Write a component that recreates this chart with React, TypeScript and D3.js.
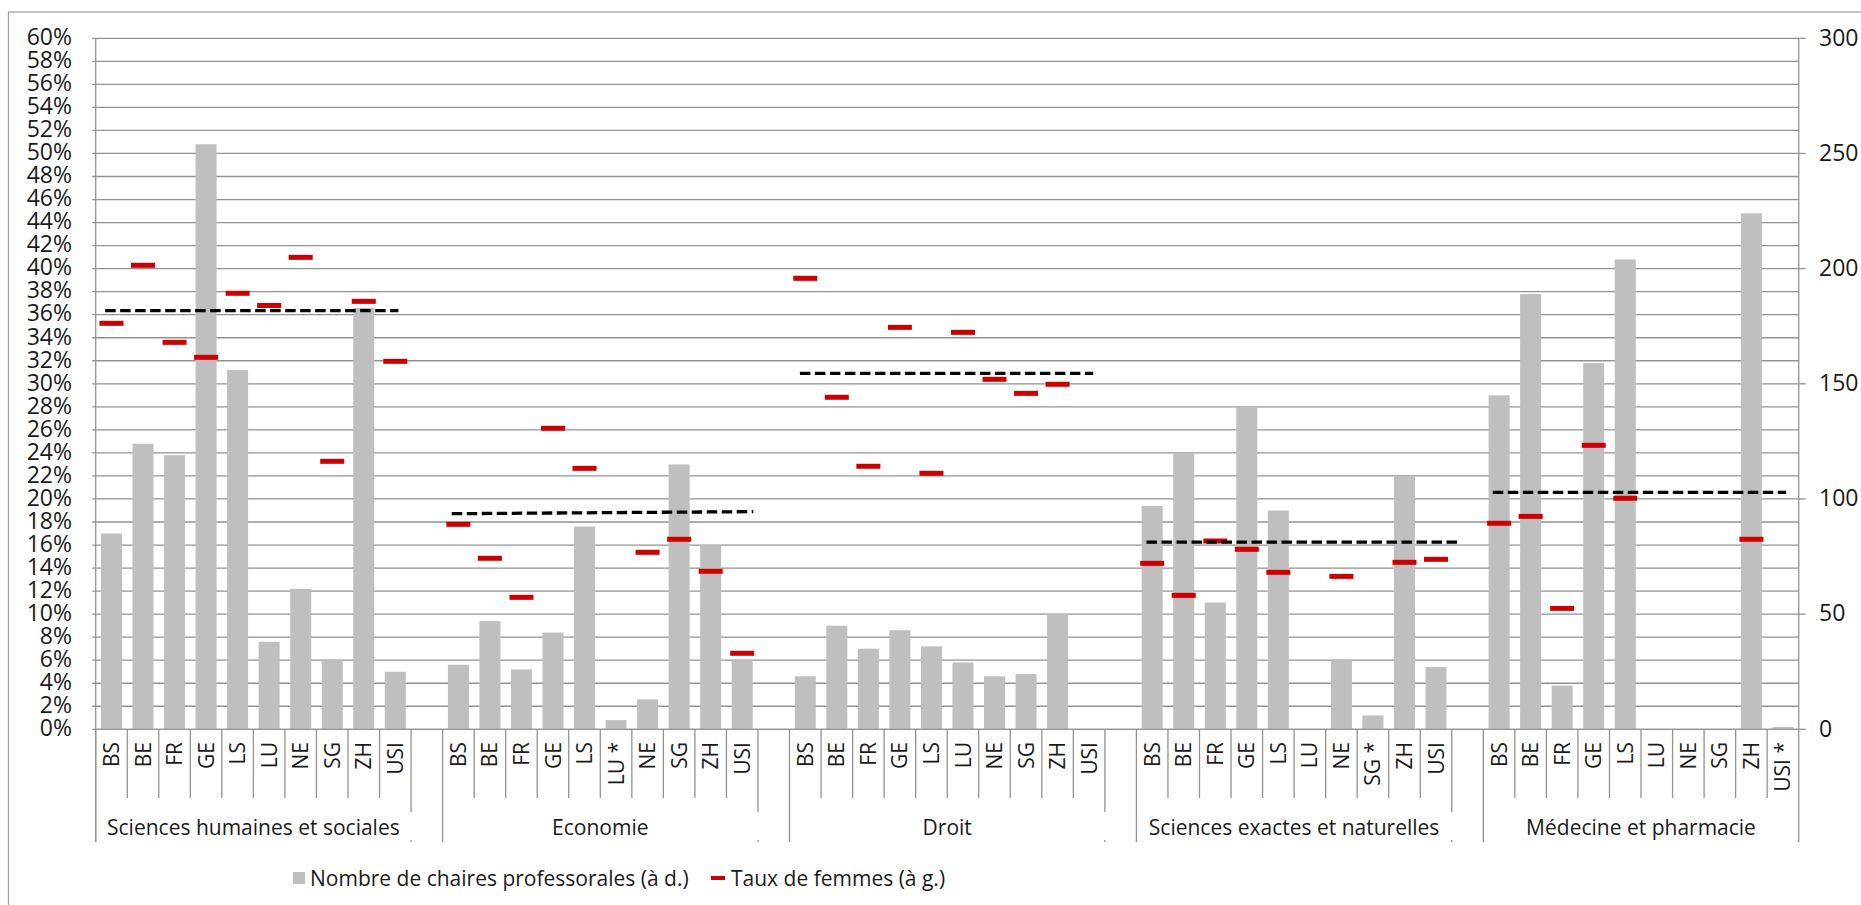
import React from "react";
import * as d3 from "d3";

// Faculties (outer category level)
const groupNames = [
  "Sciences humaines et sociales",
  "Economie",
  "Droit",
  "Sciences exactes et naturelles",
  "Médecine et pharmacie",
];

// Universities per faculty (inner category level)
const shsUnis = ["BS", "BE", "FR", "GE", "LS", "LU", "NE", "SG", "ZH", "USI"];
const ecoUnis = ["BS", "BE", "FR", "GE", "LS", "LU *", "NE", "SG", "ZH", "USI"];
const droitUnis = ["BS", "BE", "FR", "GE", "LS", "LU", "NE", "SG", "ZH", "USI"];
const sciUnis = ["BS", "BE", "FR", "GE", "LS", "LU", "NE", "SG *", "ZH", "USI"];
const medUnis = ["BS", "BE", "FR", "GE", "LS", "LU", "NE", "SG", "ZH", "USI *"];

// Number of professorial chairs (right axis)
const shsChairs = [85, 124, 119, 254, 156, 38, 61, 30, 183, 25];
const ecoChairs = [28, 47, 26, 42, 88, 4, 13, 115, 80, 30];
const droitChairs = [23, 45, 35, 43, 36, 29, 23, 24, 50, null];
const sciChairs = [97, 120, 55, 140, 95, null, 30, 6, 110, 27];
const medChairs = [145, 189, 19, 159, 204, null, null, 0, 224, 1];

// Share of women, in % (left axis)
const shsWomen = [35.25, 40.29, 33.6, 32.3, 37.86, 36.8, 40.98, 23.27, 37.16, 31.95];
const ecoWomen = [17.8, 14.85, 11.46, 26.14, 22.66, null, 15.37, 16.5, 13.72, 6.6];
const droitWomen = [39.16, 28.83, 22.84, 34.9, 22.23, 34.47, 30.39, 29.17, 29.96, null];
const sciWomen = [14.41, 11.63, 16.35, 15.63, 13.63, null, 13.28, null, 14.5, 14.76];
const medWomen = [17.89, 18.49, 10.5, 24.66, 20.06, null, null, null, 16.5, null];

// Faculty averages of the share of women (dashed lines), start and end value
const avgStart = [36.35, 18.72, 30.91, 16.26, 20.58];
const avgEnd = [36.35, 18.9, 30.91, 16.26, 20.58];

// Axis ticks
const pctTicks = d3.range(0, 62, 2);
const countTicks = [0, 50, 100, 150, 200, 250, 300];

const unisByGroup = [shsUnis, ecoUnis, droitUnis, sciUnis, medUnis];
const chairsByGroup = [shsChairs, ecoChairs, droitChairs, sciChairs, medChairs];
const womenByGroup = [shsWomen, ecoWomen, droitWomen, sciWomen, medWomen];

// Layout
const W = 1861;
const H = 905;
const plotLeft = 95.7;
const plotRight = 1798.7;
const plotTop = 38.3;
const plotBottom = 729.3;
const SLOTS_PER_GROUP = 11; // 10 universities + one empty spacer
const FONT = "'Open Sans', 'Noto Sans', sans-serif";
const GRID = "#929292";
const BAR = "#bfbfbf";
const RED = "#cc0000";

// Horizontal extent of each dashed line, in slot units from the faculty start
const avgSpan: [number, number][] = [
  [0.3, 9.6],
  [0.29, 9.85],
  [0.33, 9.63],
  [0.32, 10.27],
  [0.3, 9.6],
];

type Item = {
  key: number;
  group: number;
  uni: string;
  chairs: number | null;
  women: number | null;
};

const items: Item[] = [];
groupNames.forEach((_, g) => {
  unisByGroup[g].forEach((uni, i) => {
    items.push({
      key: g * SLOTS_PER_GROUP + i,
      group: g,
      uni,
      chairs: chairsByGroup[g][i],
      women: womenByGroup[g][i],
    });
  });
});

const nSlots = groupNames.length * SLOTS_PER_GROUP - 1;

export default function App() {
  const x = d3
    .scaleBand<number>()
    .domain(d3.range(nSlots))
    .range([plotLeft, plotRight])
    .paddingInner(0)
    .paddingOuter(0);
  const bw = x.bandwidth();
  const slotX = (s: number) => plotLeft + s * bw;
  const yPct = d3.scaleLinear().domain([0, 60]).range([plotBottom, plotTop]);
  const yCount = d3.scaleLinear().domain([0, 300]).range([plotBottom, plotTop]);

  const barW = 21;
  const markW = 24;
  const markH = 5;

  const lineGen = d3
    .line<[number, number]>()
    .x((d) => d[0])
    .y((d) => d[1]);

  const tickLabelTop = 742;
  const catTickEnd = 798;
  const groupLineEnd = 842;
  const spacerLineEnd = 812;
  const groupLabelY = 835;
  const legendY = 878;

  return (
    <svg
      width={W}
      height={H}
      viewBox={`0 0 ${W} ${H}`}
      style={{ position: "absolute", left: 0, top: 0, background: "#fff" }}
      fontFamily={FONT}
    >
      <rect x={0} y={0} width={W} height={H} fill="#fff" />
      {/* outer frame */}
      <rect
        x={8.5}
        y={12}
        width={W + 10}
        height={H - 2}
        fill="none"
        stroke="#a0a0a0"
        strokeWidth={1.3}
      />

      {/* horizontal gridlines with left tick marks */}
      {pctTicks.map((t) => (
        <line
          key={`g${t}`}
          x1={plotLeft - 3.5}
          x2={plotRight}
          y1={yPct(t)}
          y2={yPct(t)}
          stroke={GRID}
          strokeWidth={1.3}
        />
      ))}

      {/* bars: number of chairs */}
      {items
        .filter((d) => d.chairs != null && d.chairs > 0)
        .map((d) => (
          <rect
            key={`b${d.key}`}
            x={(x(d.key) as number) + bw / 2 - barW / 2}
            y={yCount(d.chairs as number)}
            width={barW}
            height={plotBottom - yCount(d.chairs as number)}
            fill={BAR}
          />
        ))}

      {/* axes */}
      <line x1={plotLeft} x2={plotLeft} y1={plotTop} y2={groupLineEnd} stroke={GRID} strokeWidth={1.3} />
      <line x1={plotRight} x2={plotRight} y1={plotTop} y2={groupLineEnd} stroke={GRID} strokeWidth={1.3} />
      <line x1={plotLeft} x2={plotRight} y1={plotBottom} y2={plotBottom} stroke={GRID} strokeWidth={1.3} />
      {countTicks.map((t) => (
        <line
          key={`rt${t}`}
          x1={plotRight}
          x2={plotRight + 7}
          y1={yCount(t)}
          y2={yCount(t)}
          stroke={GRID}
          strokeWidth={1.3}
        />
      ))}

      {/* red markers: share of women */}
      {items
        .filter((d) => d.women != null)
        .map((d) => (
          <rect
            key={`m${d.key}`}
            x={(x(d.key) as number) + bw / 2 - markW / 2}
            y={yPct(d.women as number) - markH / 2}
            width={markW}
            height={markH}
            fill={RED}
          />
        ))}

      {/* dashed faculty averages */}
      {groupNames.map((_, g) => {
        const s0 = g * SLOTS_PER_GROUP;
        const pts: [number, number][] = [
          [slotX(s0 + avgSpan[g][0]), yPct(avgStart[g])],
          [slotX(s0 + avgSpan[g][1]), yPct(avgEnd[g])],
        ];
        return (
          <path
            key={`a${g}`}
            d={lineGen(pts) as string}
            stroke="#000"
            strokeWidth={3.3}
            strokeDasharray="10.5 4.5"
            fill="none"
          />
        );
      })}

      {/* category ticks and rotated university labels */}
      {items.map((d) => {
        const i = d.key - d.group * SLOTS_PER_GROUP;
        const cx = (x(d.key) as number) + bw / 2;
        return (
          <g key={`c${d.key}`}>
            {i > 0 && (
              <line
                x1={x(d.key)}
                x2={x(d.key)}
                y1={plotBottom}
                y2={catTickEnd}
                stroke={GRID}
                strokeWidth={1.3}
              />
            )}
            <text
              x={cx}
              y={tickLabelTop}
              transform={`rotate(-90, ${cx}, ${tickLabelTop})`}
              textAnchor="end"
              dy="0.36em"
              fontSize={21}
              fill="#1a1a1a"
            >
              {d.uni}
            </text>
          </g>
        );
      })}

      {/* faculty separators and labels */}
      {groupNames.map((name, g) => {
        const s0 = g * SLOTS_PER_GROUP;
        const left = slotX(s0);
        const right = slotX(s0 + 10);
        const last = g === groupNames.length - 1;
        return (
          <g key={`gr${g}`}>
            <line x1={left} x2={left} y1={plotBottom} y2={groupLineEnd} stroke={GRID} strokeWidth={1.3} />
            {!last && (
              <>
                <line x1={right} x2={right} y1={plotBottom} y2={spacerLineEnd} stroke={GRID} strokeWidth={1.3} />
                <line x1={right} x2={right} y1={groupLineEnd - 2} y2={groupLineEnd} stroke={GRID} strokeWidth={1.3} />
              </>
            )}
            <text
              x={(left + right) / 2}
              y={groupLabelY}
              textAnchor="middle"
              fontSize={21}
              fill="#1a1a1a"
            >
              {name}
            </text>
          </g>
        );
      })}

      {/* left axis labels */}
      {pctTicks.map((t) => (
        <text
          key={`yl${t}`}
          x={72}
          y={yPct(t) - 1.5}
          dy="0.36em"
          textAnchor="end"
          fontSize={23}
          fill="#1a1a1a"
        >
          {`${t}%`}
        </text>
      ))}

      {/* right axis labels */}
      {countTicks.map((t) => (
        <text
          key={`yr${t}`}
          x={1819}
          y={yCount(t) - 1}
          dy="0.36em"
          textAnchor="start"
          fontSize={23}
          fill="#1a1a1a"
        >
          {t}
        </text>
      ))}

      {/* legend */}
      <rect x={293} y={legendY - 6} width={12} height={12} fill={BAR} />
      <text x={310} y={legendY} dy="0.36em" fontSize={21} fill="#1a1a1a">
        Nombre de chaires professorales (à d.)
      </text>
      <rect x={711} y={legendY - 2} width={14} height={4} fill={RED} />
      <text x={731} y={legendY} dy="0.36em" fontSize={21} fill="#1a1a1a">
        Taux de femmes (à g.)
      </text>
    </svg>
  );
}
